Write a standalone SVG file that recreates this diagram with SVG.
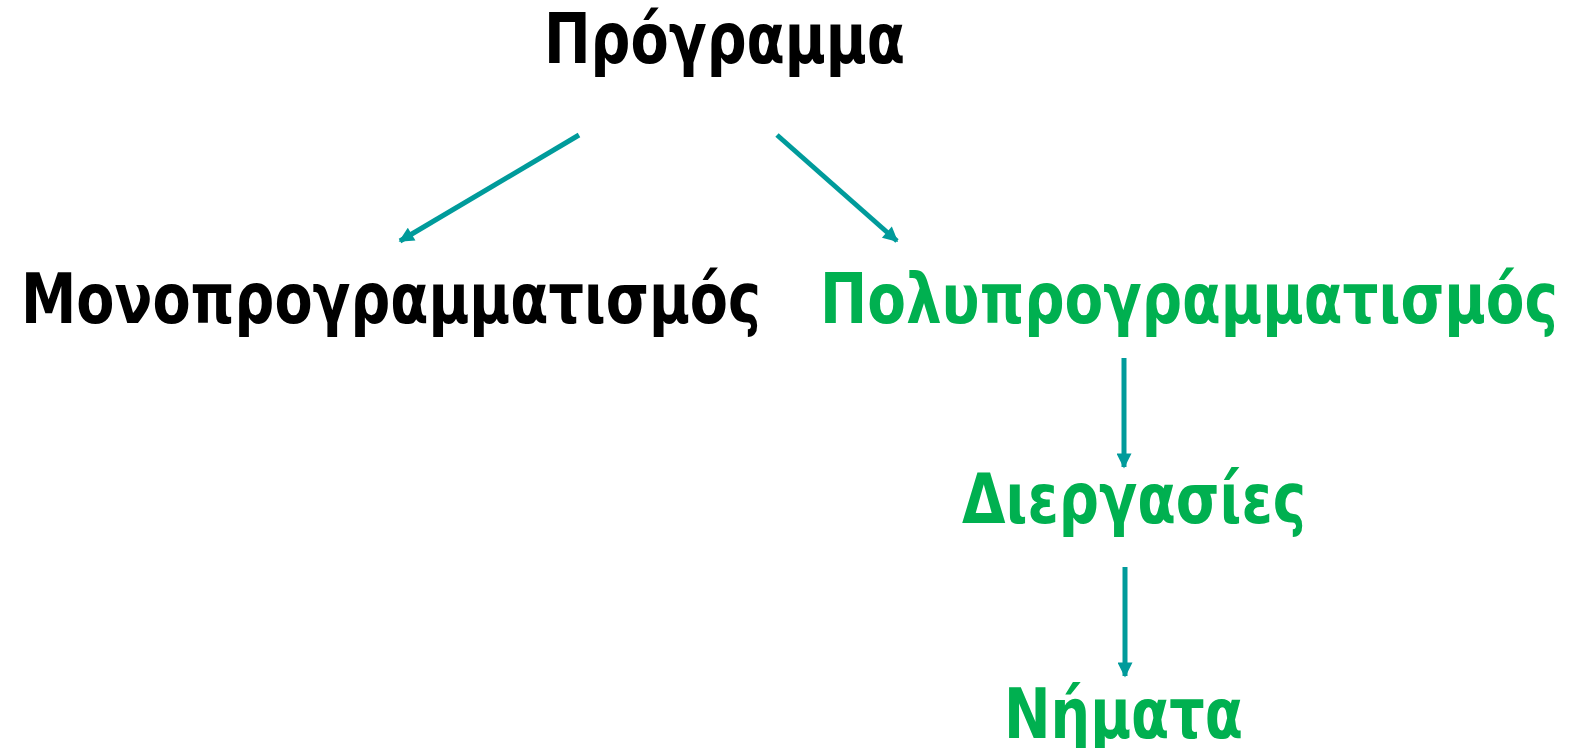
<svg xmlns="http://www.w3.org/2000/svg" width="1569" height="748" viewBox="0 0 1569 748">
  <style>
    .lbl { font-family: "DejaVu Sans Condensed", "DejaVu Sans", "Noto Sans", sans-serif; font-weight: bold; font-size: 69px; }
    .dark { fill: #000000; }
    .green { fill: #00B050; }
    .edge { stroke: #009B9B; stroke-width: 5; fill: none; marker-end: url(#head); }
  </style>
  <defs>
    <marker id="head" viewBox="0 0 10 10" refX="9" refY="5" markerWidth="3.6" markerHeight="3" orient="auto" markerUnits="strokeWidth">
      <path d="M0,0 L10,5 L0,10 Z" fill="#009B9B"/>
    </marker>
  </defs>
  <rect width="1569" height="748" fill="#ffffff"/>
  <g id="connectors">
    <line class="edge" x1="579" y1="135" x2="400" y2="241"/>
    <line class="edge" x1="777" y1="135" x2="897" y2="241"/>
    <line class="edge" x1="1124" y1="358" x2="1124" y2="467"/>
    <line class="edge" x1="1125" y1="567" x2="1125" y2="676"/>
  </g>
  <g id="programma">
    <text class="lbl dark" x="544" y="63" textLength="361" lengthAdjust="spacingAndGlyphs">Πρόγραμμα</text>
  </g>
  <g id="monoprogrammatismos">
    <text class="lbl dark" x="21" y="323" textLength="740" lengthAdjust="spacingAndGlyphs">Μονοπρογραμματισμός</text>
  </g>
  <g id="polyprogrammatismos">
    <text class="lbl green" x="820" y="323" textLength="738" lengthAdjust="spacingAndGlyphs">Πολυπρογραμματισμός</text>
  </g>
  <g id="diergasies">
    <text class="lbl green" x="962" y="523" textLength="344" lengthAdjust="spacingAndGlyphs">Διεργασίες</text>
  </g>
  <g id="nimata">
    <text class="lbl green" x="1004" y="738" textLength="239" lengthAdjust="spacingAndGlyphs">Νήματα</text>
  </g>
</svg>
